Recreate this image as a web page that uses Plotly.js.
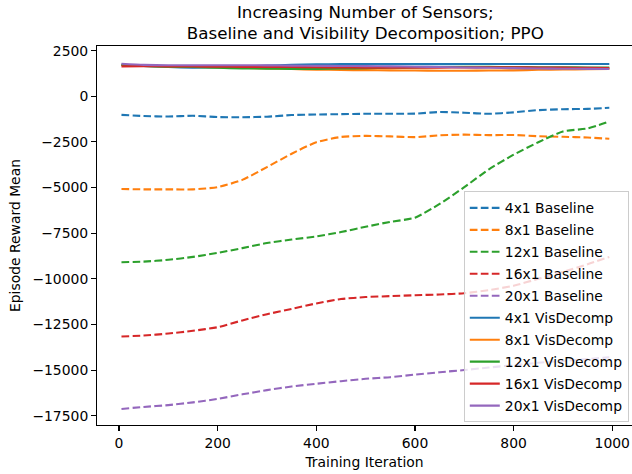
<!DOCTYPE html>
<html>
<head>
<meta charset="utf-8">
<script src="https://cdn.plot.ly/plotly-3.0.1.min.js"></script>
<style>html,body{margin:0;padding:0;overflow:hidden;background:#fff}#chart{width:632px;height:474px}</style>
</head>
<body>
<div id="chart"></div>
<script>
const iterations = [5, 50, 100, 150, 200, 250, 300, 350, 400, 450, 500, 550, 600, 650, 700, 750, 800, 850, 900, 950, 994];

const baseline4  = [-1020, -1080, -1110, -1070, -1140, -1150, -1120, -1030, -1000, -980, -960, -960, -950, -860, -900, -960, -880, -760, -710, -690, -630];
const baseline8  = [-5080, -5100, -5100, -5100, -4980, -4580, -3880, -3150, -2520, -2230, -2170, -2200, -2240, -2140, -2100, -2130, -2120, -2190, -2220, -2260, -2330];
const baseline12 = [-9090, -9060, -8960, -8800, -8580, -8320, -8040, -7850, -7680, -7440, -7150, -6880, -6650, -5900, -4980, -4000, -3200, -2520, -1930, -1760, -1380];
const baseline16 = [-13160, -13110, -13000, -12850, -12650, -12280, -11940, -11650, -11350, -11110, -11000, -10950, -10900, -10860, -10790, -10620, -10380, -10000, -9620, -9200, -8800];
const baseline20 = [-17130, -17020, -16920, -16770, -16580, -16330, -16100, -15900, -15750, -15610, -15480, -15390, -15250, -15120, -15000, -14860, -14730, -14600, -14500, -14400, -14300];

const visdecomp4  = [1720, 1660, 1600, 1570, 1580, 1620, 1680, 1720, 1750, 1760, 1760, 1760, 1760, 1760, 1765, 1765, 1765, 1765, 1770, 1770, 1770];
const visdecomp8  = [1700, 1660, 1640, 1610, 1590, 1560, 1520, 1490, 1460, 1440, 1430, 1420, 1410, 1400, 1400, 1410, 1420, 1450, 1470, 1480, 1490];
const visdecomp12 = [1720, 1660, 1620, 1600, 1560, 1530, 1510, 1500, 1500, 1520, 1540, 1560, 1580, 1600, 1610, 1610, 1600, 1590, 1590, 1580, 1580];
const visdecomp16 = [1640, 1650, 1640, 1630, 1620, 1610, 1600, 1600, 1590, 1580, 1570, 1560, 1560, 1570, 1580, 1590, 1590, 1580, 1570, 1560, 1550];
const visdecomp20 = [1780, 1720, 1700, 1700, 1700, 1700, 1690, 1680, 1670, 1660, 1650, 1640, 1620, 1600, 1580, 1560, 1540, 1520, 1510, 1500, 1490];

const seriesNames = ["4x1 Baseline", "8x1 Baseline", "12x1 Baseline", "16x1 Baseline", "20x1 Baseline",
                     "4x1 VisDecomp", "8x1 VisDecomp", "12x1 VisDecomp", "16x1 VisDecomp", "20x1 VisDecomp"];
const seriesValues = [baseline4, baseline8, baseline12, baseline16, baseline20,
                      visdecomp4, visdecomp8, visdecomp12, visdecomp16, visdecomp20];

const xTickVals = [0, 200, 400, 600, 800, 1000];
const xTickText = ["0", "200", "400", "600", "800", "1000"];
const yTickVals = [2500, 0, -2500, -5000, -7500, -10000, -12500, -15000, -17500];
const yTickText = ["2500", "0", "\u22122500", "\u22125000", "\u22127500", "\u221210000", "\u221212500", "\u221215000", "\u221217500"];

const colors = ["#1f77b4", "#ff7f0e", "#2ca02c", "#d62728", "#9467bd"];
const FONT = "DejaVu Sans, sans-serif";

const traces = seriesNames.map((name, i) => ({
  x: iterations,
  y: seriesValues[i],
  name: name,
  type: "scatter",
  mode: "lines",
  legendgroup: "g" + i,
  line: {
    color: colors[i % 5],
    width: 2.1,
    dash: i < 5 ? "7.7px,3.3px" : "solid",
    shape: "spline",
    smoothing: 0.6
  }
}));

const layout = {
  width: 632,
  height: 474,
  margin: {l: 97, r: 0, t: 46, b: 49},
  paper_bgcolor: "#fff",
  plot_bgcolor: "#fff",
  font: {family: FONT, size: 13.9, color: "#000"},
  title: {
    text: "Increasing Number of Sensors;<br>Baseline and Visibility Decomposition; PPO",
    font: {family: FONT, size: 16.7, color: "#000"},
    x: 0.578, xanchor: "center",
    y: 0.963, yanchor: "top", yref: "container"
  },
  xaxis: {
    range: [-44.6, 1040],
    tickvals: xTickVals, ticktext: xTickText,
    ticks: "outside", ticklen: 4.9, tickwidth: 1.1, tickcolor: "#000",
    showgrid: false, zeroline: false,
    showline: true, linecolor: "#000", linewidth: 1.1, mirror: true,
    tickfont: {family: FONT, size: 13.9, color: "#000"},
    title: {text: "Training Iteration", font: {family: FONT, size: 13.9, color: "#000"}, standoff: 7}
  },
  yaxis: {
    range: [-18010, 2754],
    tickvals: yTickVals, ticktext: yTickText,
    ticks: "outside", ticklen: 4.9, tickwidth: 1.1, tickcolor: "#000",
    showgrid: false, zeroline: false,
    showline: true, linecolor: "#000", linewidth: 1.1, mirror: false,
    tickfont: {family: FONT, size: 13.9, color: "#000"},
    title: {text: "Episode Reward Mean", font: {family: FONT, size: 13.9, color: "#000"}, standoff: 8}
  },
  showlegend: true,
  legend: {
    x: 0.994, xanchor: "right",
    y: 0.007, yanchor: "bottom",
    bgcolor: "rgba(255,255,255,0.8)",
    bordercolor: "#cccccc", borderwidth: 1,
    font: {family: FONT, size: 13.9, color: "#000"},
    tracegroupgap: 0.9,
    traceorder: "grouped"
  }
};

Plotly.newPlot("chart", traces, layout, {displayModeBar: false, staticPlot: true});
</script>
</body>
</html>
